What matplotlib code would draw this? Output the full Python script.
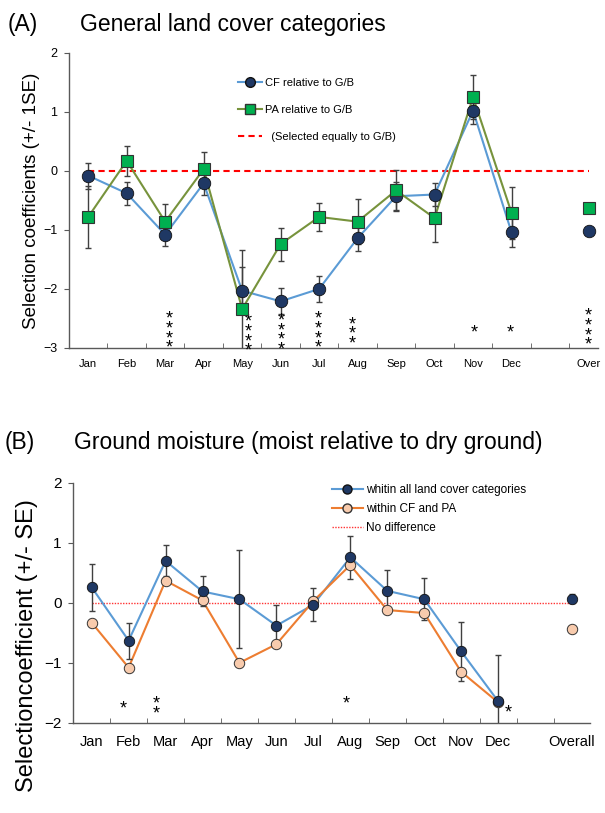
import numpy as np
import matplotlib.pyplot as plt
from matplotlib.lines import Line2D

plt.rcParams['font.family'] = ['Liberation Sans', 'DejaVu Sans']

months = ['Jan', 'Feb', 'Mar', 'Apr', 'May', 'Jun', 'Jul', 'Aug', 'Sep', 'Oct', 'Nov', 'Dec']

# (A) general land cover categories
cf_mean = [-0.08, -0.38, -1.08, -0.21, -2.03, -2.21, -2.00, -1.14, -0.43, -0.40, 1.02, -1.04]
cf_se = [0.22, 0.20, 0.20, 0.20, 0.40, 0.22, 0.22, 0.22, 0.24, 0.20, 0.22, 0.25]
pa_mean = [-0.78, 0.17, -0.86, 0.03, -2.34, -1.24, -0.78, -0.86, -0.33, -0.80, 1.25, -0.71]
pa_se = [0.53, 0.26, 0.30, 0.29, 1.00, 0.28, 0.24, 0.38, 0.35, 0.41, 0.37, 0.44]
cf_over, cf_over_se = -1.02, 0.04
pa_over, pa_over_se = -0.63, 0.07

star_a_x = [2.1, 4.15, 5.02, 5.97, 6.85, 10.04, 10.96, 13.0]
star_a_n = [4, 4, 4, 4, 3, 1, 1, 4]
star_a_top = [-2.42, -2.47, -2.45, -2.42, -2.51, -2.65, -2.65, -2.37]

# (B) ground moisture
all_mean = [0.26, -0.63, 0.70, 0.19, 0.06, -0.38, -0.03, 0.76, 0.20, 0.06, -0.81, -1.64]
all_se = [0.39, 0.30, 0.26, 0.25, 0.82, 0.34, 0.27, 0.36, 0.34, 0.35, 0.49, 0.77]
cfpa_mean = [-0.33, -1.08, 0.37, 0.04, -1.00, -0.69, 0.03, 0.63, -0.12, -0.17, -1.15, -1.66]
all_over, all_over_se = 0.07, 0.08
cfpa_over = -0.44

star_b_x = [0.85, 1.75, 6.9, 11.27]
star_b_n = [1, 2, 1, 1]
star_b_top = [-1.68, -1.60, -1.59, -1.75]

blue_line = '#5b9bd5'
navy = '#1f3864'
green_line = '#77933c'
green = '#00b050'
orange = '#ed7d31'
peach = '#f8cbad'
axis_col = '#595959'
err_col = '#404040'

x = np.arange(len(months))
over_x = len(months) + 1

fig = plt.figure(figsize=(6.05, 8.13), dpi=100)


def style_axis(ax, xmax, ylim, yticks, labels, tick_fs, ytick_fs, pad):
    ax.set_xlim(-0.5, xmax)
    ax.set_ylim(*ylim)
    for s in ['top', 'right']:
        ax.spines[s].set_visible(False)
    for s in ['left', 'bottom']:
        ax.spines[s].set_color(axis_col)
        ax.spines[s].set_linewidth(1.0)
    ax.set_yticks(yticks)
    ax.set_xticks(list(x) + [over_x])
    ax.set_xticklabels(labels, fontsize=tick_fs)
    ax.set_xticks(np.arange(0.5, xmax, 1.0), minor=True)
    ax.tick_params(axis='x', which='major', length=0, pad=pad)
    ax.tick_params(axis='x', which='minor', direction='in', length=3.5, color=axis_col)
    ax.tick_params(axis='y', direction='out', length=3.5, color=axis_col, labelsize=ytick_fs, pad=5)


def draw_stars(ax, xs, ns, tops, fs, spacing):
    # stacked asterisks, one text per stack, first star at "top"
    for sx, n, top in zip(xs, ns, tops):
        ax.annotate('\n'.join(['*'] * n), (sx, top), xytext=(0, 2.2),
                    textcoords='offset points', ha='center', va='top',
                    fontsize=fs, linespacing=spacing, color='black',
                    multialignment='center', annotation_clip=False)


# ---------- panel A ----------
axA = fig.add_axes([0.114, 0.572, 0.874, 0.363])
axA.hlines(0, x[0], over_x, colors='#ff0000', linestyles=(0, (3, 2)), lw=1.5, zorder=1)
axA.plot(x, cf_mean, color=blue_line, lw=1.5, zorder=2)
axA.plot(x, pa_mean, color=green_line, lw=1.5, zorder=2)
axA.errorbar(list(x) + [over_x], cf_mean + [cf_over], yerr=cf_se + [cf_over_se],
             fmt='none', ecolor=err_col, elinewidth=1, capsize=2.5, zorder=3)
axA.errorbar(list(x) + [over_x], pa_mean + [pa_over], yerr=pa_se + [pa_over_se],
             fmt='none', ecolor=err_col, elinewidth=1, capsize=2.5, zorder=3)
axA.plot(list(x) + [over_x], cf_mean + [cf_over], 'o', ms=9, mfc=navy, mec='#111111',
         mew=0.6, ls='none', zorder=4)
axA.plot(list(x) + [over_x], pa_mean + [pa_over], 's', ms=8.5, mfc=green, mec='#333333',
         mew=0.8, ls='none', zorder=5)
style_axis(axA, 13.24, (-3, 2), [-3, -2, -1, 0, 1, 2], months + ['Over'], 8, 9, 8)
axA.set_ylabel('Selection coefficients (+/- 1SE)', fontsize=13.5)
axA.yaxis.set_label_coords(-0.055, 0.5)
draw_stars(axA, star_a_x, star_a_n, star_a_top, 13, 0.44)

hA = [Line2D([], [], color=blue_line, lw=1.5, marker='o', ms=7, mfc=navy, mec='#111111'),
      Line2D([], [], color=green_line, lw=1.5, marker='s', ms=7, mfc=green, mec='#333333'),
      Line2D([], [], color='#ff0000', lw=1.5, ls=(0, (3, 2)))]
axA.legend(hA, ['CF relative to G/B', 'PA relative to G/B', '  (Selected equally to G/B)'],
           loc='upper left', bbox_to_anchor=(0.30, 0.95), frameon=False, fontsize=8,
           handlelength=2.2, handletextpad=0.3, labelspacing=1.55)

fig.text(8 / 605, 1 - 25 / 813, '(A)', fontsize=16.5, va='center')
fig.text(80 / 605, 1 - 25 / 813, 'General land cover categories', fontsize=16.5, va='center')

# ---------- panel B ----------
axB = fig.add_axes([0.121, 0.111, 0.855, 0.295])
axB.hlines(0, x[0], over_x, colors='#ff3333', linestyles=(0, (1, 1)), lw=1.0, zorder=1)
axB.plot(x, all_mean, color=blue_line, lw=1.5, zorder=2)
axB.plot(x, cfpa_mean, color=orange, lw=1.5, zorder=2)
axB.errorbar(list(x) + [over_x], all_mean + [all_over], yerr=all_se + [all_over_se],
             fmt='none', ecolor=err_col, elinewidth=1, capsize=2.5, zorder=3)
axB.plot(list(x) + [over_x], cfpa_mean + [cfpa_over], 'o', ms=7.5, mfc=peach, mec='#333333',
         mew=0.7, ls='none', zorder=4)
axB.plot(list(x) + [over_x], all_mean + [all_over], 'o', ms=7.5, mfc=navy, mec='#111111',
         mew=0.6, ls='none', zorder=5)
style_axis(axB, 13.5, (-2, 2), [-2, -1, 0, 1, 2], months + ['Overall'], 10.5, 11, 9)
axB.set_ylabel('Selectioncoefficient (+/- SE)', fontsize=17)
axB.yaxis.set_label_coords(-0.068, 0.32)
draw_stars(axB, star_b_x, star_b_n, star_b_top, 13, 0.44)

hB = [Line2D([], [], color=blue_line, lw=1.5, marker='o', ms=6.5, mfc=navy, mec='#111111'),
      Line2D([], [], color=orange, lw=1.5, marker='o', ms=6.5, mfc=peach, mec='#333333'),
      Line2D([], [], color='#ff3333', lw=1.0, ls=(0, (1, 1)))]
axB.legend(hB, ['whitin all land cover categories', 'within CF and PA', 'No difference'],
           loc='upper left', bbox_to_anchor=(0.48, 1.04), frameon=False, fontsize=8.5,
           handlelength=2.6, handletextpad=0.3, labelspacing=0.6)

fig.text(5 / 605, 1 - 443 / 813, '(B)', fontsize=16.5, va='center')
fig.text(74 / 605, 1 - 443 / 813, 'Ground moisture (moist relative to dry ground)',
         fontsize=16.5, va='center')

fig.savefig('out.png', dpi=100)
